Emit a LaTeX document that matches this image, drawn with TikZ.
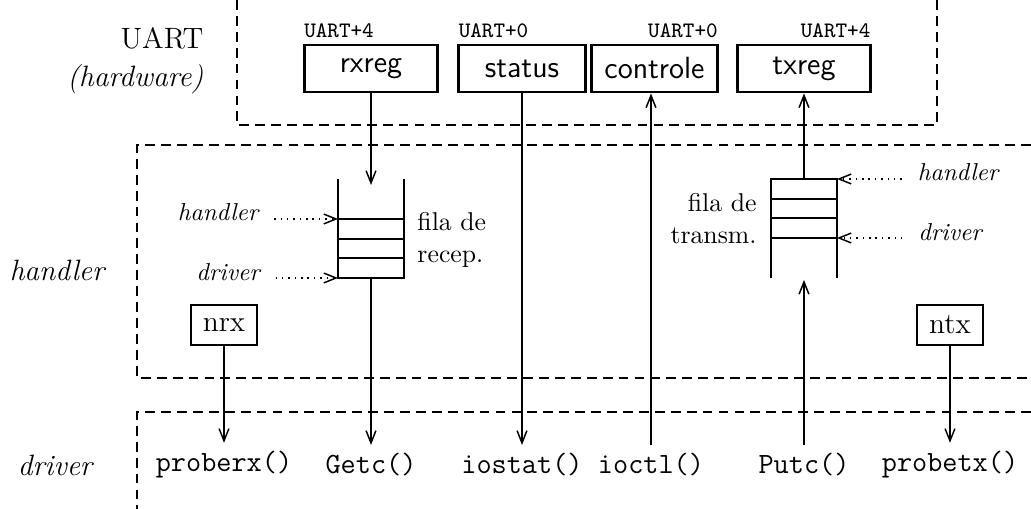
\documentclass[tikz,border=0pt]{standalone}
\usepackage{amsmath}
\usepackage{tikz}
\usetikzlibrary{calc,arrows.meta,positioning}
\tikzset{
    register/.style={
    rectangle,draw=black,line width=1.2pt,inner sep=0pt,
    minimum height=0.674cm,font=\fontsize{12.5}{14}\selectfont\sffamily
    },
    offset/.style={
    inner xsep=0.5pt,inner ysep=2.2pt,font=\fontsize{9}{10}\selectfont\ttfamily
    },
    counter/.style={
    rectangle,draw=black,line width=0.6pt,inner sep=0pt,
    minimum width=0.947cm,minimum height=0.574cm,font=\fontsize{12}{14}\selectfont
    },
    call/.style={
    font=\fontsize{12}{14}\selectfont\ttfamily
    },
    who/.style={
    font=\fontsize{10}{12}\selectfont\itshape
    },
    level/.style={
    font=\fontsize{12}{14}\selectfont\itshape
    },
    layer/.style={dash pattern=on 4pt off 2.5pt,line width=0.6pt},
    wall/.style={line width=1.2pt},
    slot/.style={line width=0.5pt},
    flow/.style={->,line width=0.6pt},
    pointer/.style={->,dotted,line width=0.6pt,shorten <=3pt},
}

\begin{document}
\begin{tikzpicture}[x=0.01435cm, y=-0.01435cm, >={Straight Barb[length=5pt,width=4pt]}]
   \useasboundingbox (0,0) rectangle (1031,509);

   % the three layers
   \draw[layer] (237,0) -- (237,125) -- (937,125) -- (937,0);
   \draw[layer] (1031,145) -- (137,145) -- (137,378) -- (1031,378);
   \draw[layer] (1031,412) -- (137,412) -- (137,509);

   \node[align=right,anchor=east,font=\fontsize{12}{15.5}\selectfont] (uart) at (212,61) {UART\\\textit{(hardware)}};
   \node[level] (lhandler) at (57,270) {handler};
   \node[level] (ldriver) at (55,465) {driver};

   % registers
   \node[register,minimum width=1.92cm] (rxreg) at (371,68.5) {rxreg};
   \node[register,minimum width=1.82cm] (status) at (522,68.5) {status};
   \node[register,minimum width=1.82cm] (ctrl) at (654.5,68.5) {controle};
   \node[register,minimum width=1.91cm] (txreg) at (804,68.5) {txreg};
   \node[offset,anchor=south west] (rxoff) at (rxreg.north west) {UART+4};
   \node[offset,anchor=south west] (stoff) at (status.north west) {UART+0};
   \node[offset,anchor=south east] (ctoff) at (ctrl.north east) {UART+0};
   \node[offset,anchor=south east] (txoff) at (txreg.north east) {UART+4};

   % reception queue
   \draw[wall] (338,179) -- (338,278) -- (404,278) -- (404,179);
   \foreach \y in {219,239,258} \draw[slot] (338,\y) -- (404,\y);
   \coordinate (rxin) at (371,185);
   \coordinate (rxout) at (371,278);
   \coordinate (rxh) at (338,219);
   \coordinate (rxd) at (338,278);
   \node[align=left,anchor=west,inner sep=0pt,font=\fontsize{10.5}{13}\selectfont] (rxname) at (417,240) {fila de\\recep.};
   \node[who] (hrx) at (218,212) {handler};
   \node[who] (drx) at (228,272) {driver};

   % transmission queue
   \draw[wall] (771,278) -- (771,179) -- (837,179) -- (837,278);
   \foreach \y in {199,218,238} \draw[slot] (771,\y) -- (837,\y);
   \coordinate (txout) at (804,179);
   \coordinate (txin) at (804,280);
   \coordinate (txh) at (837,179);
   \coordinate (txd) at (837,238);
   \node[align=right,anchor=east,inner sep=0pt,font=\fontsize{10.5}{13}\selectfont] (txname) at (757,219) {fila de\\transm.};
   \node[who] (htx) at (958,172) {handler};
   \node[who] (dtx) at (950,232) {driver};

   \node[counter] (nrx) at (224,325) {nrx};
   \node[counter] (ntx) at (950,325) {ntx};

   % driver calls
   \node[call] (proberx) at (224,465) {proberx()};
   \node[call] (getc) at (371,465) {Getc()};
   \node[call] (iostat) at (522,465) {iostat()};
   \node[call] (ioctl) at (651,465) {ioctl()};
   \node[call] (putc) at (804,465) {Putc()};
   \node[call] (probetx) at (950,465) {probetx()};

   \draw[flow] (rxreg) -- (rxin);
   \draw[flow] (rxout) -- (getc);
   \draw[flow] (status) -- (iostat);
   \draw[flow] (ioctl) -- (ioctl |- ctrl.south);
   \draw[flow] (txout) -- (txreg);
   \draw[flow] (putc) -- (txin);
   \draw[flow] (nrx) -- (proberx);
   \draw[flow] (ntx) -- (probetx);

   \draw[pointer] (hrx.east |- rxh) -- (rxh);
   \draw[pointer] (drx.east |- rxd) -- (rxd);
   \draw[pointer] (htx.west |- txh) -- (txh);
   \draw[pointer] (dtx.west |- txd) -- (txd);
\end{tikzpicture}
\end{document}
